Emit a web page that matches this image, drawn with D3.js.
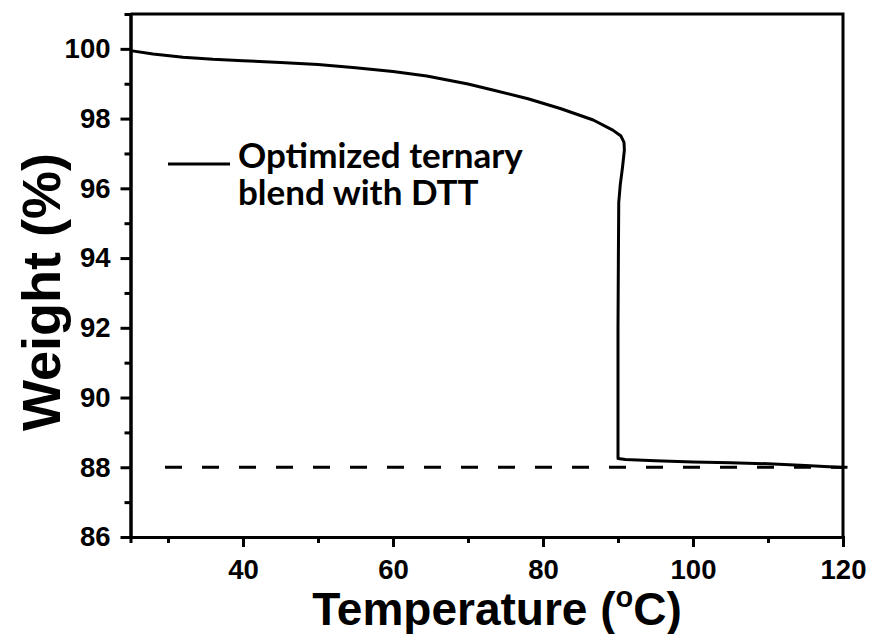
<!DOCTYPE html>
<html>
<head>
<meta charset="utf-8">
<script src="https://cdn.jsdelivr.net/npm/d3@7"></script>
<style>
  body { margin: 0; background: #fff; }
  svg { display: block; }
  .tick text { font-family: "Liberation Sans", Arial, sans-serif; font-weight: bold; font-size: 27.5px; fill: #000; }
</style>
</head>
<body>
<svg width="872" height="634"></svg>
<script>
// TGA trace
const temps = [25, 28, 32, 36, 40, 45, 50, 55, 60, 64.5, 70, 73.3, 78, 82.3, 86.7, 89.3, 90.4, 90.8, 90.85, 90.6, 90.3, 90.1, 90.05, 90.0, 90.0, 90.0, 91, 95, 100, 105, 110, 115, 120]
const weights = [99.95, 99.85, 99.76, 99.70, 99.66, 99.61, 99.55, 99.46, 99.35, 99.22, 98.99, 98.82, 98.57, 98.29, 97.96, 97.67, 97.50, 97.32, 97.1, 96.6, 96.1, 95.6, 94.0, 92.0, 90.0, 88.25, 88.22, 88.19, 88.15, 88.13, 88.10, 88.05, 87.99]
const refTemps = [29.6, 120.6]
const refWeight = 88
const xTicks = [40, 60, 80, 100, 120]
const xMinor = [30, 50, 70, 90, 110]
const yTicks = [86, 88, 90, 92, 94, 96, 98, 100]
const yMinor = [87, 89, 91, 93, 95, 97, 99]
const legendLabel = ['Optimized ternary', 'blend with DTT']

const svg = d3.select('svg')
const plotLeft = 130.5, plotRight = 843, plotTop = 14, plotBottom = 537

const x = d3.scaleLinear().domain([25, 120]).range([plotLeft, plotRight])
const y = d3.scaleLinear().domain([86, 101]).range([plotBottom, plotTop])

// minor ticks first so the major axis sits on top
svg.append('g')
  .attr('transform', `translate(0, ${plotBottom})`)
  .call(d3.axisBottom(x).tickValues(xMinor).tickSize(6).tickFormat(''))
svg.append('g')
  .attr('transform', `translate(${plotLeft}, 0)`)
  .call(d3.axisLeft(y).tickValues(yMinor).tickSize(6).tickFormat(''))

svg.append('g')
  .attr('transform', `translate(0, ${plotBottom})`)
  .call(d3.axisBottom(x).tickValues(xTicks).tickSize(10).tickPadding(12).tickSizeOuter(0))
svg.append('g')
  .attr('transform', `translate(${plotLeft}, 0)`)
  .call(d3.axisLeft(y).tickValues(yTicks).tickSize(10).tickPadding(10).tickSizeOuter(0))

svg.selectAll('.domain, .tick line')
  .attr('stroke', '#000')
  .attr('stroke-width', 3)

// top and right frame
svg.append('path')
  .attr('d', `M${plotLeft},${plotTop}H${plotRight}V${plotBottom}`)
  .attr('fill', 'none')
  .attr('stroke', '#000')
  .attr('stroke-width', 3)

// reference line
svg.append('line')
  .attr('x1', x(refTemps[0]))
  .attr('x2', x(refTemps[1]))
  .attr('y1', y(refWeight))
  .attr('y2', y(refWeight))
  .attr('stroke', '#000')
  .attr('stroke-width', 3)
  .attr('stroke-dasharray', '17,20')

const line = d3.line()
  .x((d, i) => x(temps[i]))
  .y(d => y(d))

svg.append('path')
  .datum(weights)
  .attr('d', line)
  .attr('fill', 'none')
  .attr('stroke', '#000')
  .attr('stroke-width', 3)
  .attr('stroke-linejoin', 'round')

// legend
svg.append('line')
  .attr('x1', 168).attr('x2', 230)
  .attr('y1', 164).attr('y2', 164)
  .attr('stroke', '#000')
  .attr('stroke-width', 3)

svg.append('text')
  .attr('font-family', 'Lato, "Open Sans", sans-serif')
  .attr('font-weight', 'bold')
  .attr('font-size', 35)
  .selectAll('tspan')
  .data(legendLabel)
  .enter()
  .append('tspan')
  .attr('x', 238)
  .attr('y', (d, i) => 168 + i * 37)
  .text(d => d)

// axis titles
svg.append('text')
  .attr('transform', 'translate(60, 292) rotate(-90)')
  .attr('text-anchor', 'middle')
  .attr('font-family', '"Liberation Sans", Arial, sans-serif')
  .attr('font-weight', 'bold')
  .attr('font-size', 54)
  .text('Weight (%)')

const xt = svg.append('text')
  .attr('x', 497)
  .attr('y', 625)
  .attr('text-anchor', 'middle')
  .attr('font-family', '"Liberation Sans", Arial, sans-serif')
  .attr('font-weight', 'bold')
  .attr('font-size', 46)
xt.append('tspan').text('Temperature (')
xt.append('tspan').attr('font-size', 29).attr('dy', -18).text('o')
xt.append('tspan').attr('dy', 18).text('C)')
</script>
</body>
</html>
